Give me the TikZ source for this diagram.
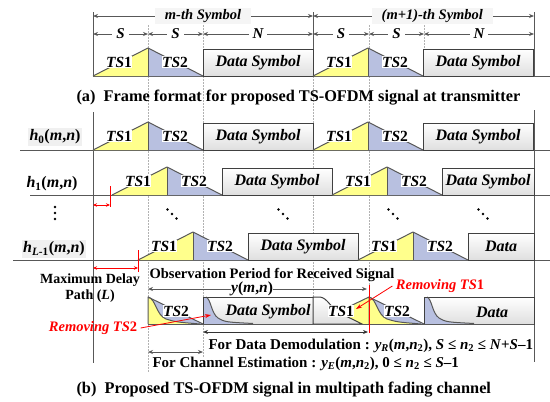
\documentclass[tikz,border=0pt]{standalone}
\usepackage{fontspec}
\setmainfont{Liberation Serif}
\usetikzlibrary{arrows.meta, positioning}

\definecolor{tsyellow}{RGB}{255,255,140}
\definecolor{tsblue}{RGB}{184,192,224}
\definecolor{edgegray}{RGB}{88,88,88}
\definecolor{boxgray}{RGB}{64,64,64}

\begin{document}
\begin{tikzpicture}[
    x=1pt, y=-1pt,
    every node/.style={font=\fontsize{14}{16}\selectfont\bfseries},
    tsedge/.style={draw=edgegray, line width=1pt, line join=round},
    databox/.style={draw=boxgray, line width=1pt, top color=white, bottom color=gray!25},
    tslabel/.style={fill=white, inner sep=0.5pt, font=\fontsize{15.5}{17}\selectfont\bfseries},
    datalabel/.style={font=\fontsize{16}{18}\selectfont\bfseries\itshape},
    dimline/.style={{Stealth[length=5pt,width=4pt]}-{Stealth[length=5pt,width=4pt]}, draw=edgegray, line width=0.8pt},
    dimlabel/.style={fill=white, inner xsep=4pt, inner ysep=1pt, font=\fontsize{15}{17}\selectfont\bfseries\itshape},
    symlabel/.style={fill=gray!8, inner xsep=10pt, inner ysep=1pt, font=\fontsize{14.5}{16}\selectfont\bfseries\itshape},
    guide/.style={draw=gray!60, dash pattern=on 1.5pt off 1.5pt, line width=0.5pt},
    axis/.style={draw=edgegray, line width=0.9pt},
    hlabel/.style={inner sep=1.5pt, font=\fontsize{16}{18}\selectfont\bfseries},
    redline/.style={draw=red, line width=0.9pt},
    reddim/.style={{Stealth[length=4pt,width=3.5pt]}-{Stealth[length=4pt,width=3.5pt]}, draw=red, line width=0.8pt},
    redarrow/.style={-{Stealth[length=6pt,width=4pt]}, draw=red, line width=0.8pt},
    rangetext/.style={anchor=west, font=\fontsize{15}{17}\selectfont\bfseries},
    caption/.style={anchor=west, font=\fontsize{16.3}{18}\selectfont\bfseries},
  ]

\useasboundingbox (0,0) rectangle (550,402);

% guide lines
\foreach \gx/\gt/\gb in {148/25/372, 203/25/358, 313/76/297, 369/25/285, 424/25/49}
  \draw[guide] (\gx,\gt) -- (\gx,\gb);

% (a) transmitted frames
\foreach \gx in {93, 313, 534}
  \draw[axis] (\gx,12) -- (\gx,76);
\draw[axis] (93,76) -- (550,76);

\foreach \n/\gx in {0/93, 1/148, 2/203, 3/313, 4/369, 5/424, 6/534}{
  \coordinate (sym\n) at (\gx,16);
  \coordinate (len\n) at (\gx,34);
}
\draw[dimline] (sym0) -- node[symlabel] (msym) {m-th Symbol} (sym3);
\draw[dimline] (sym3) -- node[symlabel, pos=0.54] (m1sym) {(m+1)-th Symbol} (sym6);
\foreach \i/\j/\lab in {0/1/S, 1/2/S, 2/3/N, 3/4/S, 4/5/S, 5/6/N}
  \draw[dimline] (len\i) -- node[dimlabel] {\lab} (len\j);

% (b) channel paths
\draw[axis] (93,112) -- (93,363);
\draw[axis] (534,110) -- (534,362);
\draw[axis] (20,150) -- (550,150);
\draw[axis] (30,195) -- (550,195);
\draw[axis] (13,260) -- (550,260);

\node[hlabel, fill=gray!12] (h0) at (55,137) {\textit{h}\textsubscript{0}(\textit{m},\textit{n})};
\node[hlabel] (h1) at (52,184) {\textit{h}\textsubscript{1}(\textit{m},\textit{n})};
\node[hlabel, fill=gray!12] (hl) at (54,249) {\textit{h}\textsubscript{\textit{L}-1}(\textit{m},\textit{n})};

\foreach \row/\dl/\bs/\lastlab in {a/0/76/Data Symbol, h0/0/150/Data Symbol, h1/19/195/Data Symbol, hl/45/260/Data}{
  \foreach \fr/\fx in {1/93, 2/313}{
    \pgfmathsetmacro{\xa}{\fx+\dl}
    \pgfmathsetmacro{\xb}{\xa+55}
    \pgfmathsetmacro{\xc}{\xa+110}
    \pgfmathsetmacro{\xe}{min(\xa+220,534)}
    \pgfmathsetmacro{\pk}{\bs-28}
    \fill[tsyellow] (\xa,\bs) -- (\xb,\pk) -- (\xb,\bs) -- cycle;
    \fill[tsblue] (\xb,\pk) -- (\xc,\bs) -- (\xb,\bs) -- cycle;
    \draw[tsedge] (\xa,\bs) -- (\xb,\pk) -- (\xc,\bs);
    \draw[tsedge] (\xb,\pk) -- (\xb,\bs);
    \draw[databox] (\xc,\bs) rectangle (\xe,\pk+1);
    \node[tslabel] (\row-tsa-\fr) at (\xa+26,\bs-14) {\textit{TS}1};
    \node[tslabel] (\row-tsb-\fr) at (\xb+27,\bs-14) {\textit{TS}2};
    \node[datalabel] (\row-data-\fr) at ({(\xc+\xe)/2},\bs-13.5) {\ifnum\fr=1 Data Symbol\else\lastlab\fi};
  }
}

% delay markers
\coordinate (d1a) at (93,205);
\coordinate (d1b) at (110,205);
\draw[reddim] (d1a) -- (d1b);
\draw[redline] (110,186) -- (110,207);
\coordinate (dla) at (93,268);
\coordinate (dlb) at (138,268);
\draw[reddim] (dla) -- (dlb);
\draw[redline] (138,250) -- (138,272);

\foreach \yy in {207,213,219}
  \fill (55,\yy) circle (1.4pt);
\foreach \cx in {172,283,393,483}
  \foreach \k in {-1,0,1}
    \fill (\cx+4.5*\k,214+4.5*\k) circle (1.3pt);

\node[align=center] (maxdelay) at (90,288) {Maximum Delay\\Path (\textit{L})};
\node[font=\fontsize{14.5}{16}\selectfont\bfseries] (obs) at (272,275) {Observation Period for Received Signal};
\coordinate (ya) at (148,289);
\coordinate (yb) at (367,289);
\draw[dimline] (ya) -- node[tslabel, pos=0.475] (ylab) {\textit{y}(\textit{m},\textit{n})} (yb);

% received signal
\foreach \sx in {148, 369}{
  \fill[tsblue] (\sx,297) -- (\sx+55,324) -- (\sx,324) -- cycle;
  \fill[tsyellow] (\sx,297) .. controls (\sx+8,299) and (\sx+8,315) .. (\sx+18,319) .. controls (\sx+28,322) .. (\sx+52,324) -- (\sx,324) -- cycle;
  \draw[tsedge] (\sx,297) -- (\sx+55,324);
  \draw[tsedge] (\sx,324) -- (\sx,297) .. controls (\sx+8,299) and (\sx+8,315) .. (\sx+18,319) .. controls (\sx+28,322) .. (\sx+52,324);
}
\node[tslabel] (rx-tsb-1) at (176,311) {\textit{TS}2};
\node[tslabel] (rx-tsb-2) at (397,311) {\textit{TS}2};

\foreach \dx/\de/\dlab/\doff in {203/313/Data Symbol/10, 424/534/Data/13}{
  \draw[databox] (\dx,297) rectangle (\de,324);
  \fill[tsblue] (\dx,297) -- (\dx+3,297) .. controls (\dx+8,299) and (\dx+8,313) .. (\dx+15,318) .. controls (\dx+22,322) .. (\dx+50,323.5) -- (\dx,324) -- cycle;
  \draw[tsedge] (\dx+3,297) .. controls (\dx+8,299) and (\dx+8,313) .. (\dx+15,318) .. controls (\dx+22,322) .. (\dx+50,323.5);
  \draw[draw=boxgray, line width=1pt] (\dx,324) -- (\dx,297) -- (\dx+4,297);
  \node[datalabel] at ({(\dx+\de)/2+\doff},312) {\dlab};
}

\fill[tsyellow] (313,324) -- (369,297) -- (369,324) -- cycle;
\draw[tsedge] (313,324) -- (369,297) -- (369,324);
\draw[databox] (313,324) -- (313,297) -- (320,297) .. controls (328,298) and (331,309) .. (341,314) .. controls (350,318) .. (362,324) -- cycle;
\node[tslabel] (rx-tsa) at (341,311) {\textit{TS}1};
\draw[axis] (148,324) -- (534,324);

\draw[redline] (369,285) -- (369,333);
\node[red, font=\fontsize{14.5}{16}\selectfont\bfseries] (rm1) at (440,286) {{\itshape Removing TS}1};
\coordinate (rm1tip) at (356,309);
\draw[redarrow] (rm1.west) -- (rm1tip);
\node[red, font=\fontsize{14.5}{16}\selectfont\bfseries] (rm2) at (93,328) {{\itshape Removing TS}2};
\coordinate (rm2tip) at (211,315);
\draw[redarrow] (rm2.east) -- (rm2tip);

\coordinate (dm0) at (203,332);
\coordinate (dm1) at (368,332);
\draw[dimline, draw=black!80] (dm0) -- (dm1);
\coordinate (ce0) at (148,352);
\coordinate (ce1) at (203,352);
\draw[dimline] (ce0) -- (ce1);

\node[rangetext] (demod) at (205,346) {For Data Demodulation : \textit{y}\textsubscript{\textit{R}}(\textit{m},\textit{n}\textsubscript{2}), \textit{S} ≤ \textit{n}\textsubscript{2} ≤ \textit{N}+\textit{S}–1};
\node[rangetext] (chest) at (149,364) {For Channel Estimation : \textit{y}\textsubscript{\textit{E}}(\textit{m},\textit{n}\textsubscript{2}), 0 ≤ \textit{n}\textsubscript{2} ≤ \textit{S}–1};

\node[caption] (capa) at (73,98) {(a)\ \ Frame format for proposed TS-OFDM signal at transmitter};
\node[caption] (capb) at (73,390) {(b)\ \ Proposed TS-OFDM signal in multipath fading channel};

\end{tikzpicture}
\end{document}
